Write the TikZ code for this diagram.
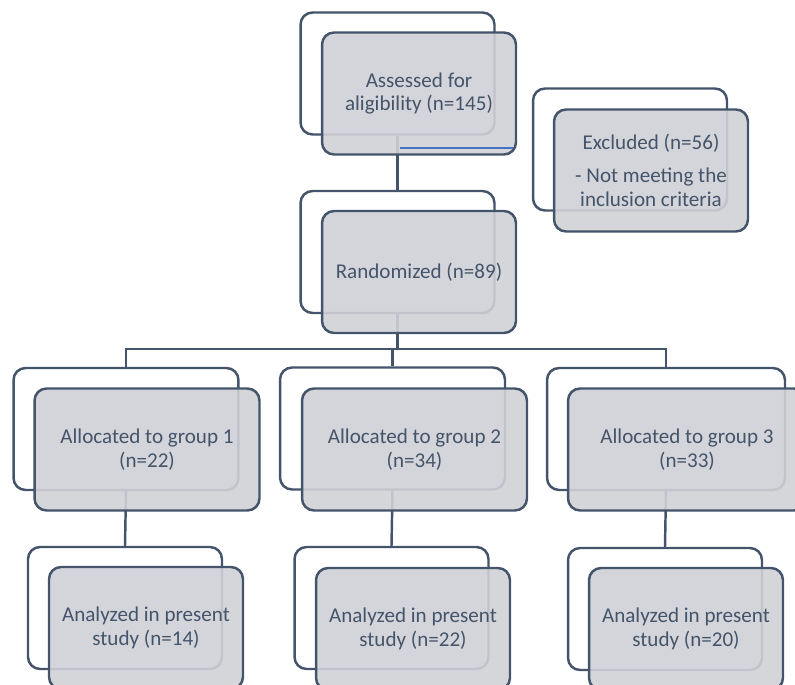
\documentclass[tikz,border=0pt]{standalone}
\usepackage{fontspec}
\setmainfont{Carlito}
\usepackage{xcolor}
\definecolor{slate}{HTML}{44546A}
\definecolor{boxgray}{RGB}{208,209,214}
\definecolor{markblue}{HTML}{4472C4}

\begin{document}
\begin{tikzpicture}[x=0.02cm,y=-0.02cm,
  backbox/.style={draw=slate,line width=1.4pt,rounded corners=0.24cm,fill=white,inner sep=0pt,minimum width=3.88cm,minimum height=2.44cm},
  frontbox/.style={backbox,fill=boxgray,fill opacity=0.9,text opacity=1,text=slate,align=center,font=\fontsize{12}{13.6}\selectfont},
  grp/.style={minimum width=4.5cm},
  link/.style={draw=slate,line width=1.4pt}]
\path[use as bounding box] (0,0) rectangle (795,685);
\clip (0,0) rectangle (795,685);
\node[backbox] (assessB) at (397.5,73.5) {};
\node[backbox] (exclB) at (630,149.5) {};
\node[backbox] (randB) at (397.5,252) {};
\node[backbox,grp] (g1B) at (126,429) {};
\node[backbox,grp] (g2B) at (392.5,428.5) {};
\node[backbox,minimum width=4.76cm] (g3B) at (666,429) {};
\node[backbox] (a1B) at (125,608) {};
\node[backbox] (a2B) at (391.5,608) {};
\node[backbox] (a3B) at (665,609) {};
\coordinate (split) at (397.5,349);
\draw[link] (assessB.south) -- (randB.north);
\draw[link] (randB.south) -- (split);
\draw[link] (g1B.north) |- (split) -| (g3B.north);
\draw[link] (g2B.north) -- (g2B.north |- split);
\draw[link] (g1B.south) -- (a1B.north);
\draw[link] (g2B.south) -- (a2B.north);
\draw[link] (g3B.south) -- (a3B.north);
\node[frontbox] (assess) at (419,93.5) {Assessed for\\aligibility (n=145)};
\node[frontbox] (excl) at (651,170.5) {Excluded (n=56)\\[0.18cm]- Not meeting the\\inclusion criteria};
\node[frontbox] (rand) at (419,272) {Randomized (n=89)};
\node[frontbox,grp] (g1) at (147,449.5) {Allocated to group 1\\(n=22)};
\node[frontbox,grp] (g2) at (414.5,449.5) {Allocated to group 2\\(n=34)};
\node[frontbox,minimum width=4.76cm] (g3) at (687,449.5) {Allocated to group 3\\(n=33)};
\node[frontbox] (a1) at (146,628) {Analyzed in present\\study (n=14)};
\node[frontbox] (a2) at (413,629) {Analyzed in present\\study (n=22)};
\node[frontbox] (a3) at (686,629) {Analyzed in present\\study (n=20)};
\draw[markblue,line width=0.6pt] (400,148) -- (513,148);
\end{tikzpicture}
\end{document}
